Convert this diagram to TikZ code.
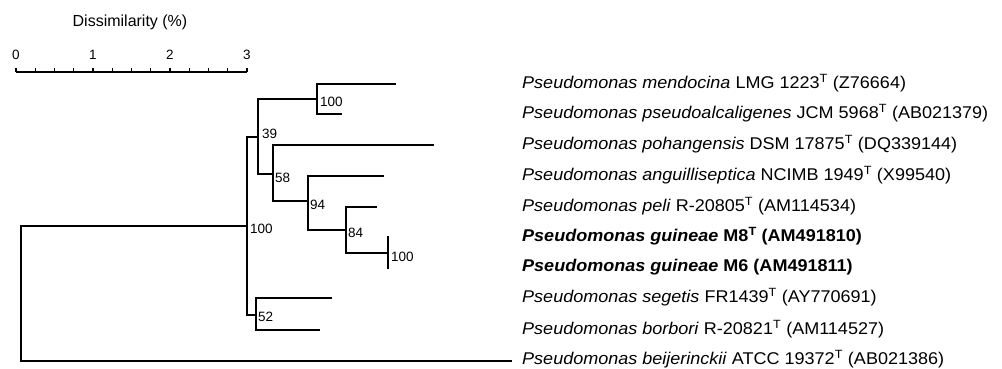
\documentclass[tikz,border=0pt]{standalone}
\usepackage{fontspec}
\setmainfont{Liberation Sans}
\newfontfamily\taxonfont[FakeStretch=1.06]{Liberation Sans}
\usetikzlibrary{calc}
\begin{document}
\begin{tikzpicture}[x=1pt,y=-1pt,
  branch/.style={line width=1.5pt,line cap=rect},
  thickbranch/.style={line width=2.4pt,line cap=rect},
  taxon/.style={anchor=west,inner sep=0pt,font=\taxonfont\fontsize{17}{20}\selectfont},
  boot/.style={anchor=west,inner sep=0pt,font=\fontsize{13.5}{15}\selectfont},
  scalelabel/.style={anchor=center,inner sep=0pt,font=\fontsize{13.5}{15}\selectfont}]
\useasboundingbox (0,0) rectangle (1002,368);
% scale bar
\node[scalelabel,font=\fontsize{16}{18}\selectfont] (title) at (130,22) {Dissimilarity (\%)};
\coordinate (s0) at (16,72);
\coordinate (s3) at (247,72);
\draw[line width=1.4pt] (s0) -- (s3);
\foreach \i in {0,...,12} {
  \draw[line width=1.1pt] ($(s0)!\i/12!(s3)$) -- ++(0,-4.5);
}
\node[scalelabel] (l0) at (16,55) {0};
\node[scalelabel] (l1) at (93,55) {1};
\node[scalelabel] (l2) at (170,55) {2};
\node[scalelabel] (l3) at (247,55) {3};
% tree coordinates
\coordinate (root) at (21,226);
\coordinate (rootb) at (21,361);
\coordinate (beij) at (511,361);
\coordinate (nA) at (247,226);
\coordinate (nAtop) at (247,137);
\coordinate (nAbot) at (247,315);
\coordinate (n39s) at (258,137);
\coordinate (n39t) at (258,99);
\coordinate (n39b) at (258,174);
\coordinate (nBm) at (317,99);
\coordinate (nBt) at (317,84);
\coordinate (nBb) at (317,114);
\coordinate (mend) at (395,84);
\coordinate (pseu) at (341,114);
\coordinate (n58m) at (273,174);
\coordinate (n58t) at (273,145);
\coordinate (n58b) at (273,201);
\coordinate (poha) at (433,145);
\coordinate (n94m) at (308,201);
\coordinate (n94t) at (308,176);
\coordinate (n94b) at (308,230);
\coordinate (angu) at (383,176);
\coordinate (n84m) at (346,230);
\coordinate (n84t) at (346,207);
\coordinate (n84b) at (346,253);
\coordinate (peli) at (376,207);
\coordinate (nCm) at (388,253);
\coordinate (nCt) at (388,237);
\coordinate (nCb) at (388,268);
\coordinate (n52m) at (256,315);
\coordinate (n52t) at (256,298);
\coordinate (n52b) at (256,330);
\coordinate (sege) at (331,298);
\coordinate (borb) at (319,330);
% branches
\draw[thickbranch] (nA) -- (root) -- (rootb);
\draw[branch] (rootb) -- (beij);
\draw[branch] (nAtop) -- (nAbot);
\draw[branch] (nAtop) -- (n39s);
\draw[thickbranch] (n39t) -- (n39b);
\draw[branch] (n39t) -- (nBm);
\draw[branch] (nBt) -- (nBb);
\draw[branch] (nBt) -- (mend);
\draw[branch] (nBb) -- (pseu);
\draw[thickbranch] (n39b) -- (n58m);
\draw[thickbranch] (n58t) -- (n58b);
\draw[branch] (n58t) -- (poha);
\draw[thickbranch] (n58b) -- (n94m);
\draw[branch] (n94t) -- (n94b);
\draw[branch] (n94t) -- (angu);
\draw[branch] (n94b) -- (n84m);
\draw[branch] (n84t) -- (n84b);
\draw[branch] (n84t) -- (peli);
\draw[branch] (n84b) -- (nCm);
\draw[thickbranch] (nCt) -- (nCb);
\draw[branch] (nAbot) -- (n52m);
\draw[branch] (n52t) -- (n52b);
\draw[branch] (n52t) -- (sege);
\draw[branch] (n52b) -- (borb);
% bootstrap values
\node[boot] (bA) at (250,229) {100};
\node[boot] (b39) at (262,134) {39};
\node[boot] (bB) at (320,102) {100};
\node[boot] (b58) at (275,178) {58};
\node[boot] (b94) at (310,205) {94};
\node[boot] (b84) at (348,233) {84};
\node[boot] (bC) at (391,257) {100};
\node[boot] (b52) at (258,317) {52};
% taxa
\node[taxon] (t1) at (522,83) {\textit{Pseudomonas mendocina} LMG 1223\textsuperscript{T} (Z76664)};
\node[taxon] (t2) at (522,113) {\textit{Pseudomonas pseudoalcaligenes} JCM 5968\textsuperscript{T} (AB021379)};
\node[taxon] (t3) at (522,144) {\textit{Pseudomonas pohangensis} DSM 17875\textsuperscript{T} (DQ339144)};
\node[taxon] (t4) at (522,175) {\textit{Pseudomonas anguilliseptica} NCIMB 1949\textsuperscript{T} (X99540)};
\node[taxon] (t5) at (522,206) {\textit{Pseudomonas peli} R-20805\textsuperscript{T} (AM114534)};
\node[taxon] (t6) at (522,236) {\textbf{\textit{Pseudomonas guineae} M8\textsuperscript{T} (AM491810)}};
\node[taxon] (t7) at (522,267) {\textbf{\textit{Pseudomonas guineae} M6 (AM491811)}};
\node[taxon] (t8) at (522,297) {\textit{Pseudomonas segetis} FR1439\textsuperscript{T} (AY770691)};
\node[taxon] (t9) at (522,329) {\textit{Pseudomonas borbori} R-20821\textsuperscript{T} (AM114527)};
\node[taxon] (t10) at (522,359) {\textit{Pseudomonas beijerinckii} ATCC 19372\textsuperscript{T} (AB021386)};
\end{tikzpicture}
\end{document}
